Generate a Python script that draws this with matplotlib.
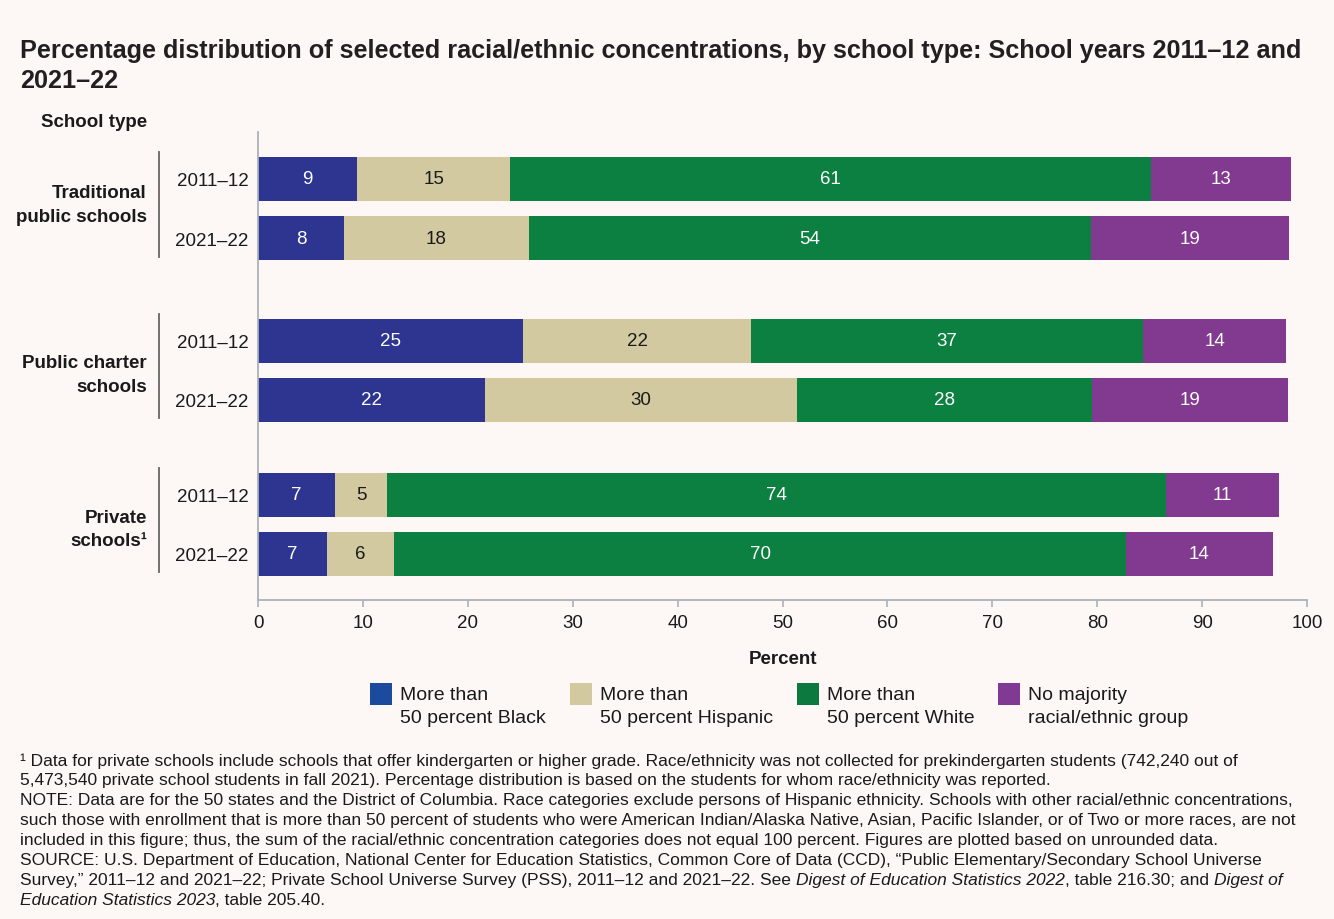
import matplotlib
matplotlib.use("Agg")
import matplotlib.pyplot as plt
from matplotlib import font_manager
from matplotlib.patches import Rectangle
import matplotlib.transforms as mtransforms

# ---- data -------------------------------------------------------------
school_types = ["Traditional\npublic schools", "Public charter\nschools", "Private\nschools\u00b9"]
years = ["2011\u201312", "2021\u201322"]
series_labels = ["More than\n50 percent Black", "More than\n50 percent Hispanic",
                 "More than\n50 percent White", "No majority\nracial/ethnic group"]

# rows: traditional 11-12, 21-22, charter 11-12, 21-22, private 11-12, 21-22
black = [9.44, 8.2, 25.26, 21.64, 7.34, 6.58]
hispanic = [14.6, 17.63, 21.74, 29.74, 4.96, 6.39]
white = [61.1, 53.6, 37.37, 28.12, 74.26, 69.78]
no_majority = [13.35, 18.9, 13.63, 18.69, 10.77, 14.0]

x_ticks = [0, 10, 20, 30, 40, 50, 60, 70, 80, 90, 100]

# ---- style ------------------------------------------------------------
available = {f.name for f in font_manager.fontManager.ttflist}
REG = "Liberation Sans" if "Liberation Sans" in available else "DejaVu Sans"

BG = "#fdf8f5"
INK = "#1a1a1a"
bar_colors = ["#2d3590", "#d3c9a0", "#0c8040", "#823a91"]
legend_colors = ["#1c4a9c", "#d3c9a0", "#0c7a3e", "#803a93"]
text_colors = ["white", INK, "white", "white"]
spine_color = "#aab2ba"
FS = 13.5

plt.rcParams["font.family"] = REG

W, H = 1334, 920
fig = plt.figure(figsize=(W / 100, H / 100), dpi=100, facecolor=BG)
ax = fig.add_axes([258 / W, 1 - 601 / H, (1307 - 258) / W, (601 - 133) / H], facecolor=BG)

y_pos = [0.0, 1.0, 2.72, 3.71, 5.31, 6.30]
bar_h = 0.74

series = [black, hispanic, white, no_majority]
left = [0.0] * len(y_pos)
for vals, col, tcol in zip(series, bar_colors, text_colors):
    ax.barh(y_pos, vals, left=left, height=bar_h, color=col, edgecolor="none")
    for y, l, v in zip(y_pos, left, vals):
        ax.text(l + v / 2, y, f"{v:.0f}", ha="center", va="center",
                color=tcol, fontsize=FS)
    left = [a + b for a, b in zip(left, vals)]

ax.set_xlim(0, 100)
ax.set_ylim(7.08, -0.79)
ax.set_xticks(x_ticks)
ax.set_xticklabels([str(t) for t in x_ticks], fontsize=FS, color=INK)
ax.set_yticks(y_pos)
ax.set_yticklabels(years * 3, fontsize=FS, color=INK)
ax.tick_params(axis="y", length=0, pad=7)
ax.tick_params(axis="x", length=5, width=1.2, color=spine_color, pad=5)
for s in ["top", "right"]:
    ax.spines[s].set_visible(False)
for s in ["left", "bottom"]:
    ax.spines[s].set_color(spine_color)
    ax.spines[s].set_linewidth(1.3)

ax.set_xlabel("Percent", fontsize=FS, fontweight="bold", labelpad=14, color=INK)

# group labels and brackets
trans = mtransforms.blended_transform_factory(ax.transAxes, ax.transData)
x_line = (159 - 258) / (1307 - 258)
x_lab = (147 - 258) / (1307 - 258)
label_shift = [-0.07, 0.07, 0.08]
for i, name in enumerate(school_types):
    y0, y1 = y_pos[2 * i], y_pos[2 * i + 1]
    ax.plot([x_line, x_line], [y0 - 0.45, y1 + 0.31], transform=trans,
            color="#666666", lw=1.3, clip_on=False)
    ax.text(x_lab, (y0 + y1) / 2 + label_shift[i], name, transform=trans, ha="right",
            va="center", fontsize=FS, fontweight="bold", linespacing=1.5, color=INK)

fig.text(147 / W, 1 - 123 / H, "School type", ha="right", va="center",
         fontsize=FS, fontweight="bold", color=INK)

# title
fig.text(20 / W, 1 - 51 / H, "Percentage distribution of selected racial/ethnic concentrations, "
         "by school type: School years 2011\u201312 and", ha="left", va="center",
         fontsize=18.2, fontweight="bold", color="#231f20")
fig.text(20 / W, 1 - 81 / H, "2021\u201322", ha="left", va="center",
         fontsize=18.2, fontweight="bold", color="#231f20")

# legend, laid out left to right
fig.canvas.draw()
renderer = fig.canvas.get_renderer()
lx = 370
for lab, col in zip(series_labels, legend_colors):
    fig.add_artist(Rectangle((lx / W, 1 - 706 / H), 22 / W, 22 / H,
                             transform=fig.transFigure, facecolor=col, edgecolor="none"))
    t = fig.text((lx + 30) / W, 1 - 707 / H, lab, ha="left", va="center",
                 fontsize=14, linespacing=1.45, color=INK)
    lx = lx + 30 + t.get_window_extent(renderer=renderer).width + 24

# footnotes with inline italics
foot_lines = [
    [("\u00b9 Data for private schools include schools that offer kindergarten or higher grade. "
      "Race/ethnicity was not collected for prekindergarten students (742,240 out of", "normal")],
    [("5,473,540 private school students in fall 2021). Percentage distribution is based on the "
      "students for whom race/ethnicity was reported.", "normal")],
    [("NOTE: Data are for the 50 states and the District of Columbia. Race categories exclude persons "
      "of Hispanic ethnicity. Schools with other racial/ethnic concentrations,", "normal")],
    [("such those with enrollment that is more than 50 percent of students who were American "
      "Indian/Alaska Native, Asian, Pacific Islander, or of Two or more races, are not", "normal")],
    [("included in this figure; thus, the sum of the racial/ethnic concentration categories does not "
      "equal 100 percent. Figures are plotted based on unrounded data.", "normal")],
    [("SOURCE: U.S. Department of Education, National Center for Education Statistics, Common Core "
      "of Data (CCD), \u201cPublic Elementary/Secondary School Universe", "normal")],
    [("Survey,\u201d 2011\u201312 and 2021\u201322; Private School Universe Survey (PSS), 2011\u201312 "
      "and 2021\u201322. See ", "normal"),
     ("Digest of Education Statistics 2022", "italic"),
     (", table 216.30; and ", "normal"),
     ("Digest of", "italic")],
    [("Education Statistics 2023", "italic"), (", table 205.40.", "normal")],
]

foot_size = 12.55
for i, runs in enumerate(foot_lines):
    x_px = 20
    y_frac = 1 - (761 + 20 * i) / H
    for txt, style in runs:
        t = fig.text(x_px / W, y_frac, txt, ha="left", va="center", fontsize=foot_size,
                     style=style, color=INK)
        x_px += t.get_window_extent(renderer=renderer).width

fig.savefig("out.png", dpi=100, facecolor=BG)
